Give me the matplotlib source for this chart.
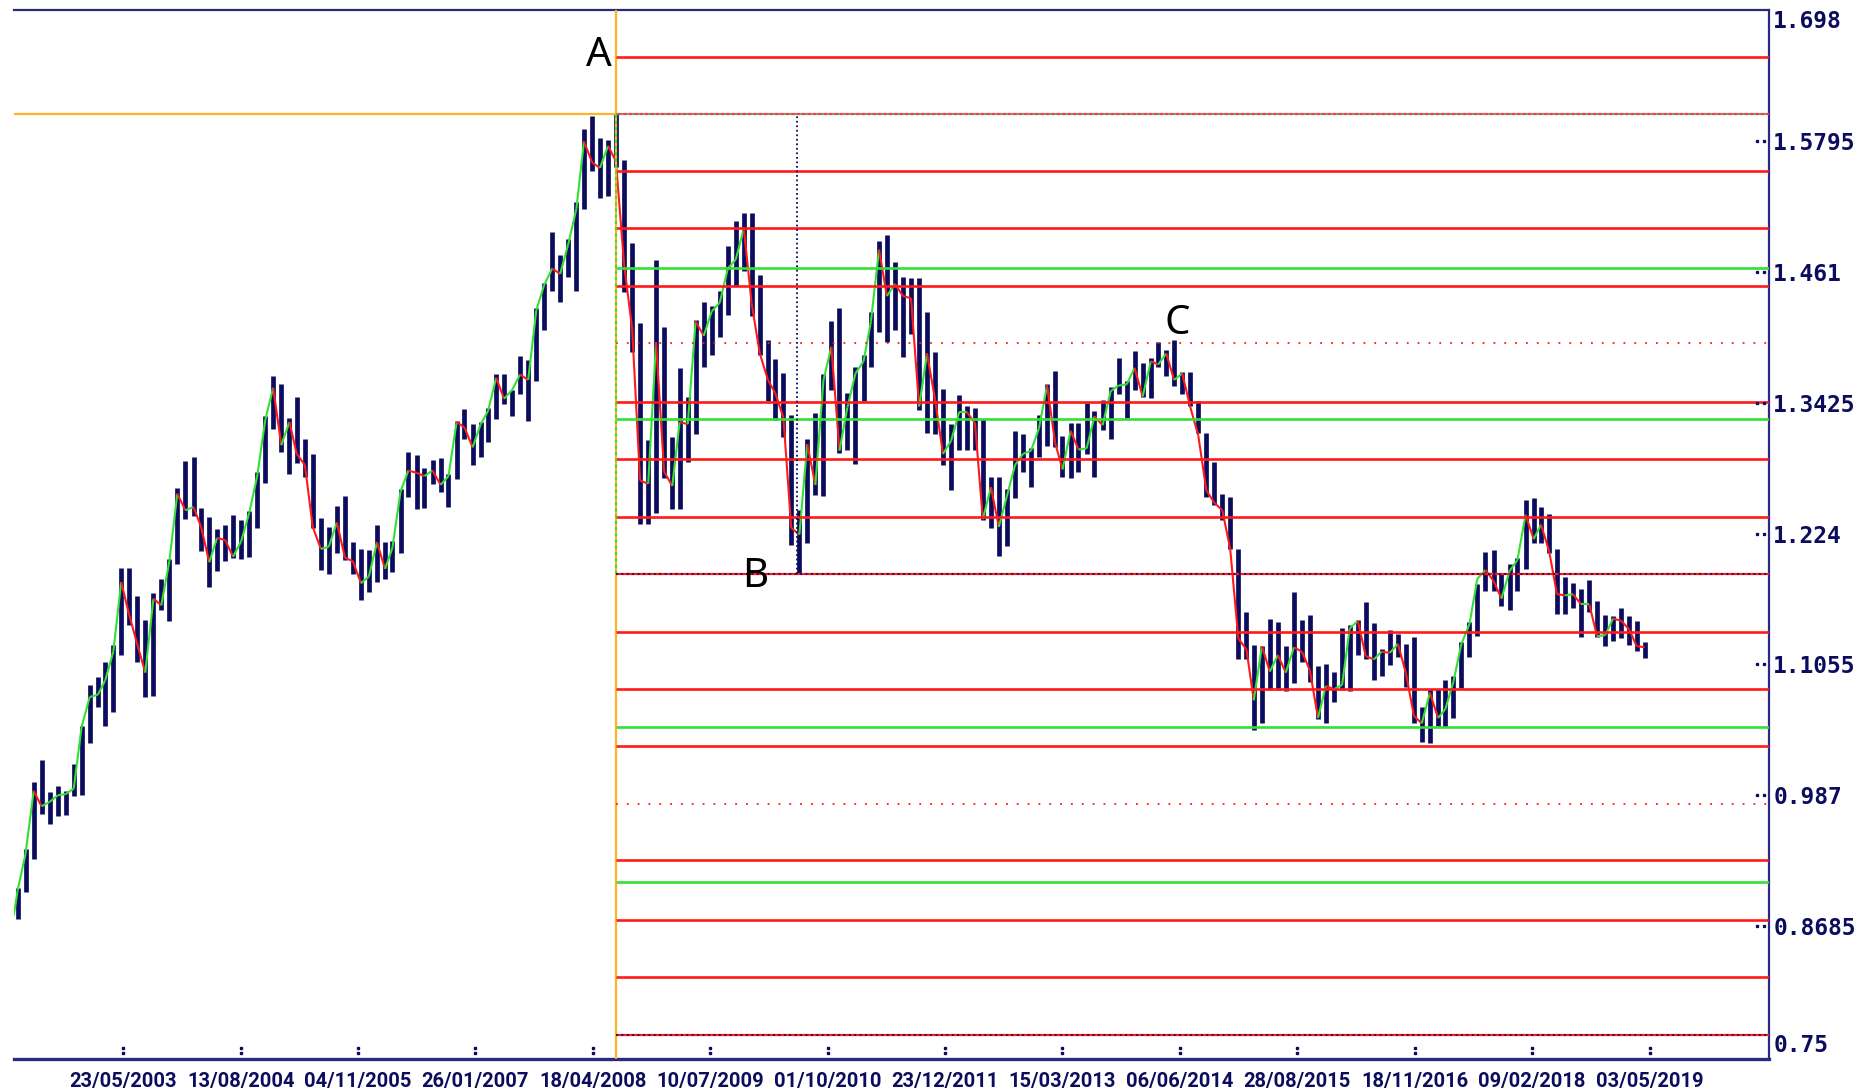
import matplotlib
matplotlib.use("Agg")
import matplotlib.pyplot as plt
import matplotlib.dates as mdates
import numpy as np
import pandas as pd
from matplotlib.collections import LineCollection
from matplotlib.transforms import blended_transform_factory

# ---------------- data (monthly bars, Apr 2002 .. Apr 2019) ----------------
start_month = "2002-04-01"
high = [
    0.9030, 0.9380, 0.9990, 1.0190, 0.9900, 0.9950, 0.9910, 1.0150, 1.0500,            # 2002 Apr-Dec
    1.0870, 1.0940, 1.1080, 1.1230, 1.1930, 1.1930, 1.1670, 1.1460, 1.1700, 1.1830, 1.2010, 1.2650,  # 2003
    1.2900, 1.2930, 1.2470, 1.2390, 1.2280, 1.2320, 1.2410, 1.2360, 1.2440, 1.2800, 1.3300, 1.3670,  # 2004
    1.3590, 1.3290, 1.3480, 1.3100, 1.2960, 1.2380, 1.2300, 1.2490, 1.2580, 1.2160, 1.2100, 1.2090,  # 2005
    1.2320, 1.2160, 1.2170, 1.2640, 1.2980, 1.2950, 1.2830, 1.2910, 1.2920, 1.2780, 1.3260, 1.3370,  # 2006
    1.3230, 1.3250, 1.3380, 1.3680, 1.3680, 1.3540, 1.3850, 1.3810, 1.4280, 1.4510, 1.4970, 1.4760,  # 2007
    1.4910, 1.5240, 1.5900, 1.6020, 1.5820, 1.5800, 1.6040, 1.5620, 1.4870, 1.4150, 1.3090, 1.4720,  # 2008
    1.4110, 1.3110, 1.3740, 1.3480, 1.4170, 1.4340, 1.4300, 1.4440, 1.4840, 1.5070, 1.5140, 1.5140,  # 2009
    1.4580, 1.3990, 1.3820, 1.3690, 1.3310, 1.2450, 1.3100, 1.3330, 1.3680, 1.4160, 1.4280, 1.3510,  # 2010
    1.3750, 1.3860, 1.4250, 1.4890, 1.4940, 1.4700, 1.4560, 1.4550, 1.4550, 1.4250, 1.3880, 1.3550,  # 2011
    1.3230, 1.3490, 1.3390, 1.3380, 1.3280, 1.2750, 1.2750, 1.2640, 1.3170, 1.3140, 1.3010, 1.3310,  # 2012
    1.3590, 1.3710, 1.3120, 1.3240, 1.3240, 1.3420, 1.3350, 1.3450, 1.3570, 1.3830, 1.3620, 1.3890,  # 2013
    1.3780, 1.3830, 1.3970, 1.3900, 1.3990, 1.3700, 1.3700, 1.3440, 1.3150, 1.2890, 1.2600, 1.2570,  # 2014
    1.2100, 1.1530, 1.1230, 1.1220, 1.1470, 1.1440, 1.1220, 1.1710, 1.1460, 1.1500, 1.1040, 1.1060,  # 2015
    1.0990, 1.1380, 1.1410, 1.1460, 1.1620, 1.1430, 1.1190, 1.1370, 1.1330, 1.1240, 1.1300, 1.0670,  # 2016
    1.0830, 1.0830, 1.0910, 1.0950, 1.1260, 1.1440, 1.1780, 1.2070, 1.2090, 1.1880, 1.1960, 1.2020,  # 2017
    1.2540, 1.2560, 1.2480, 1.2420, 1.2100, 1.1850, 1.1790, 1.1740, 1.1820, 1.1630, 1.1500, 1.1490,  # 2018
    1.1570, 1.1490, 1.1450, 1.1260,                                                    # 2019 Jan-Apr
]
low = [
    0.8750, 0.8990, 0.9290, 0.9700, 0.9610, 0.9680, 0.9690, 0.9860, 0.9870,
    1.0340, 1.0670, 1.0500, 1.0620, 1.1140, 1.1410, 1.1080, 1.0760, 1.0770, 1.1550, 1.1450, 1.1960,
    1.2370, 1.2400, 1.2080, 1.1760, 1.1900, 1.1990, 1.2020, 1.2010, 1.2030, 1.2290, 1.2700, 1.3190,
    1.2980, 1.2780, 1.2880, 1.2750, 1.2290, 1.1910, 1.1870, 1.2060, 1.2000, 1.1870, 1.1640, 1.1710,
    1.1800, 1.1830, 1.1890, 1.2060, 1.2570, 1.2460, 1.2470, 1.2690, 1.2620, 1.2480, 1.2730, 1.3100,
    1.2860, 1.2930, 1.3070, 1.3280, 1.3410, 1.3300, 1.3500, 1.3260, 1.3620, 1.4080, 1.4440, 1.4340,
    1.4560, 1.4440, 1.5180, 1.5520, 1.5280, 1.5300, 1.5560, 1.4430, 1.3880, 1.2330, 1.2330, 1.2430,
    1.2740, 1.2460, 1.2460, 1.2890, 1.3140, 1.3750, 1.3860, 1.4020, 1.4220, 1.4480, 1.4620, 1.4210,
    1.3860, 1.3440, 1.3270, 1.3110, 1.2140, 1.1880, 1.2150, 1.2590, 1.2580, 1.3540, 1.2970, 1.3000,
    1.2870, 1.3440, 1.3750, 1.4060, 1.3970, 1.4080, 1.3840, 1.4050, 1.3360, 1.3150, 1.3140, 1.2860,
    1.2630, 1.3000, 1.3000, 1.3000, 1.2360, 1.2290, 1.2040, 1.2130, 1.2560, 1.2800, 1.2660, 1.2930,
    1.3030, 1.3020, 1.2750, 1.2740, 1.2800, 1.2960, 1.2750, 1.3180, 1.3100, 1.3500, 1.3290, 1.3540,
    1.3480, 1.3470, 1.3750, 1.3670, 1.3580, 1.3500, 1.3390, 1.3150, 1.2570, 1.2500, 1.2360, 1.2100,
    1.1100, 1.1100, 1.0460, 1.0520, 1.0820, 1.0820, 1.0810, 1.0890, 1.1080, 1.0900, 1.0560, 1.0520,
    1.0710, 1.0820, 1.0810, 1.1140, 1.1100, 1.0910, 1.0950, 1.1050, 1.1120, 1.0850, 1.0520, 1.0350,
    1.0340, 1.0500, 1.0490, 1.0570, 1.0840, 1.1120, 1.1310, 1.1720, 1.1720, 1.1580, 1.1550, 1.1720,
    1.1920, 1.2150, 1.2150, 1.2060, 1.1510, 1.1510, 1.1570, 1.1300, 1.1530, 1.1300, 1.1220, 1.1270,
    1.1290, 1.1230, 1.1180, 1.1110,
]
close = [
    0.9010, 0.9340, 0.9910, 0.9770, 0.9810, 0.9870, 0.9880, 0.9930, 1.0490,
    1.0760, 1.0780, 1.0910, 1.1170, 1.1800, 1.1500, 1.1240, 1.0980, 1.1650, 1.1590, 1.1990, 1.2600,
    1.2450, 1.2480, 1.2300, 1.1980, 1.2200, 1.2180, 1.2030, 1.2170, 1.2430, 1.2760, 1.3270, 1.3560,
    1.3040, 1.3250, 1.2960, 1.2860, 1.2300, 1.2100, 1.2120, 1.2340, 1.2020, 1.1990, 1.1790, 1.1850,
    1.2160, 1.1920, 1.2110, 1.2620, 1.2810, 1.2790, 1.2760, 1.2810, 1.2680, 1.2760, 1.3250, 1.3200,
    1.3020, 1.3230, 1.3350, 1.3650, 1.3460, 1.3540, 1.3680, 1.3630, 1.4260, 1.4490, 1.4640, 1.4590,
    1.4860, 1.5180, 1.5790, 1.5600, 1.5550, 1.5750, 1.5610, 1.4680, 1.4090, 1.2720, 1.2690, 1.3970,
    1.2800, 1.2670, 1.3250, 1.3230, 1.4160, 1.4030, 1.4250, 1.4330, 1.4640, 1.4720, 1.5000, 1.4320,
    1.3870, 1.3630, 1.3510, 1.3290, 1.2290, 1.2230, 1.3050, 1.2680, 1.3630, 1.3930, 1.2990, 1.3380,
    1.3690, 1.3800, 1.4160, 1.4810, 1.4390, 1.4500, 1.4390, 1.4370, 1.3390, 1.3870, 1.3450, 1.2960,
    1.3080, 1.3340, 1.3340, 1.3240, 1.2370, 1.2660, 1.2300, 1.2580, 1.2860, 1.2960, 1.2990, 1.3190,
    1.3580, 1.3060, 1.2820, 1.3170, 1.3000, 1.3010, 1.3300, 1.3220, 1.3530, 1.3580, 1.3590, 1.3740,
    1.3480, 1.3800, 1.3770, 1.3870, 1.3630, 1.3690, 1.3390, 1.3130, 1.2630, 1.2520, 1.2450, 1.2100,
    1.1290, 1.1190, 1.0730, 1.1220, 1.0990, 1.1140, 1.0980, 1.1210, 1.1170, 1.1000, 1.0570, 1.0860,
    1.0830, 1.0870, 1.1380, 1.1450, 1.1130, 1.1100, 1.1170, 1.1160, 1.1240, 1.0980, 1.0590, 1.0520,
    1.0800, 1.0570, 1.0650, 1.0900, 1.1240, 1.1420, 1.1830, 1.1910, 1.1810, 1.1650, 1.1900, 1.2000,
    1.2410, 1.2190, 1.2320, 1.2080, 1.1690, 1.1680, 1.1690, 1.1600, 1.1600, 1.1310, 1.1320, 1.1470,
    1.1450, 1.1370, 1.1220, 1.1210,
]
first_open = 0.8780

# pivot points
point_names = ["A", "B", "C"]
point_dates = ["2008-07-15", "2010-06-07", "2014-05-08"]
point_values = [1.6038, 1.1874, 1.3993]

# projected levels
red_levels = [1.6555, 1.5522, 1.5005, 1.4478, 1.3435, 1.2918, 1.2391,
              1.1347, 1.0830, 1.0314, 0.9281, 0.8744, 0.8227]
green_levels = [1.4640, 1.3273, 1.0487, 0.9088]
red_dotted_levels = [1.3962, 0.9787]
navy_dotted_levels = [1.1874, 0.7700]

y_ticks = [1.698, 1.5795, 1.461, 1.3425, 1.224, 1.1055, 0.987, 0.8685, 0.75]
y_tick_labels = ["1.698", "1.5795", "1.461", "1.3425", "1.224", "1.1055", "0.987", "0.8685", "0.75"]
x_tick_labels = ["23/05/2003", "13/08/2004", "04/11/2005", "26/01/2007", "18/04/2008",
                 "10/07/2009", "01/10/2010", "23/12/2011", "15/03/2013", "06/06/2014",
                 "28/08/2015", "18/11/2016", "09/02/2018", "03/05/2019"]

# ---------------- styling ----------------
NAVY = "#0c0c5e"
FRAME = "#2a2a80"
RED = "#ff1a1a"
GREEN = "#33e033"
ORANGE = "#ffb326"

fig = plt.figure(figsize=(18.65, 10.92), dpi=100)
fig.patch.set_facecolor("white")
ax = fig.add_axes([14 / 1865, 1 - 1059 / 1092, (1769 - 14) / 1865, (1059 - 10) / 1092])

dates = pd.date_range(start_month, periods=len(close), freq="MS") + pd.Timedelta(days=14)
xd = mdates.date2num(dates.to_pydatetime())
x_left = mdates.date2num(pd.Timestamp("2002-04-01").to_pydatetime())
x_right = mdates.date2num(pd.Timestamp("2020-08-01").to_pydatetime())
ax.set_xlim(x_left, x_right)
ax.set_ylim(0.7482, 1.6971)

# high-low bars
ax.vlines(xd, low, high, color=NAVY, lw=3.4, zorder=2)

# close line coloured by direction
opens = [first_open] + close[:-1]
prev_x = [xd[0] - 15] + list(xd[:-1])
segs = [[(px, o), (x, c)] for px, x, o, c in zip(prev_x, xd, opens, close)]
cols = [GREEN if c >= o else RED for o, c in zip(opens, close)]
ax.add_collection(LineCollection(segs, colors=cols, linewidths=1.5, zorder=3))

# pivot verticals / horizontals
xa = mdates.date2num(pd.Timestamp(point_dates[0]).to_pydatetime())
xb = mdates.date2num(pd.Timestamp(point_dates[1]).to_pydatetime())
xc = mdates.date2num(pd.Timestamp(point_dates[2]).to_pydatetime())
ya, yb, yc = point_values

ax.axvline(xa, color=ORANGE, lw=1.6, zorder=4)
ax.hlines(ya, x_left, xa, color=ORANGE, lw=1.6, zorder=4)
ax.vlines(xa, yb, ya, color=GREEN, lw=1.5, linestyles=(0, (1.5, 1.5)), zorder=5)
ax.vlines(xb, yb, ya, color=NAVY, lw=1.3, linestyles=(0, (1, 1.5)), zorder=5)

# projection levels
ax.hlines(red_levels, xa, x_right, color=RED, lw=1.9, zorder=4)
ax.hlines(green_levels, xa, x_right, color=GREEN, lw=1.9, zorder=4)
ax.hlines(red_dotted_levels, xa, x_right, color=RED, lw=1.3, linestyles=(0, (1, 5)), zorder=4)
ax.hlines(navy_dotted_levels, xa, x_right, color=RED, lw=1.6, zorder=4)
ax.hlines(navy_dotted_levels, xa, x_right, color=NAVY, lw=1.3, linestyles=(0, (1, 2)), zorder=5)
ax.hlines(ya, xa, x_right, color="#ff3366", lw=1.6, zorder=4)
ax.hlines(ya, xa, x_right, color=GREEN, lw=1.3, linestyles=(0, (1, 2)), zorder=5)

# point labels
lab_font = dict(family="Noto Sans", fontsize=29, color="black", zorder=6)
ax.annotate(point_names[0], (xa, ya), xytext=(-4, 58), textcoords="offset pixels",
            ha="right", va="center", **lab_font)
ax.annotate(point_names[1], (xb, yb), xytext=(-42, -3), textcoords="offset pixels",
            ha="center", va="center", **lab_font)
ax.annotate(point_names[2], (xc, yc), xytext=(5, 16), textcoords="offset pixels",
            ha="center", va="center", **lab_font)

# frame
ax.spines["left"].set_visible(False)
for side in ["top", "right"]:
    ax.spines[side].set_color(FRAME)
    ax.spines[side].set_linewidth(1.6)
ax.spines["bottom"].set_color(FRAME)
ax.spines["bottom"].set_linewidth(2.4)

# y ticks on the right
ax.yaxis.tick_right()
ax.set_yticks(y_ticks)
ax.set_yticklabels(y_tick_labels, family="DejaVu Sans Mono", fontweight="bold",
                   fontsize=16.5, color=NAVY)
ax.tick_params(axis="y", length=0, pad=3)
ylabs = ax.get_yticklabels()
ylabs[0].set_va("top")
ylabs[-1].set_va("bottom")

# x ticks
x_tick_pos = [mdates.date2num(pd.to_datetime(s, dayfirst=True).to_pydatetime()) for s in x_tick_labels]
ax.set_xticks(x_tick_pos)
ax.set_xticklabels(x_tick_labels, family="Roboto", fontweight="bold", fontsize=14.5,
                   color=NAVY)
ax.tick_params(axis="x", length=0, pad=9)

# dotted tick marks
tx = blended_transform_factory(ax.transData, ax.transAxes)
for p in x_tick_pos:
    ax.plot([p, p], [0.0105, 0.0058], ls="none", marker="s", ms=1.6, color=NAVY,
            transform=tx, clip_on=False, zorder=6)
ty = blended_transform_factory(ax.transAxes, ax.transData)
for v in y_ticks[1:-1]:
    ax.plot([0.9931, 0.9971], [v, v], ls="none", marker="s", ms=1.4, color=NAVY,
            transform=ty, clip_on=False, zorder=6)

fig.savefig("out.png", dpi=100, facecolor="white")
